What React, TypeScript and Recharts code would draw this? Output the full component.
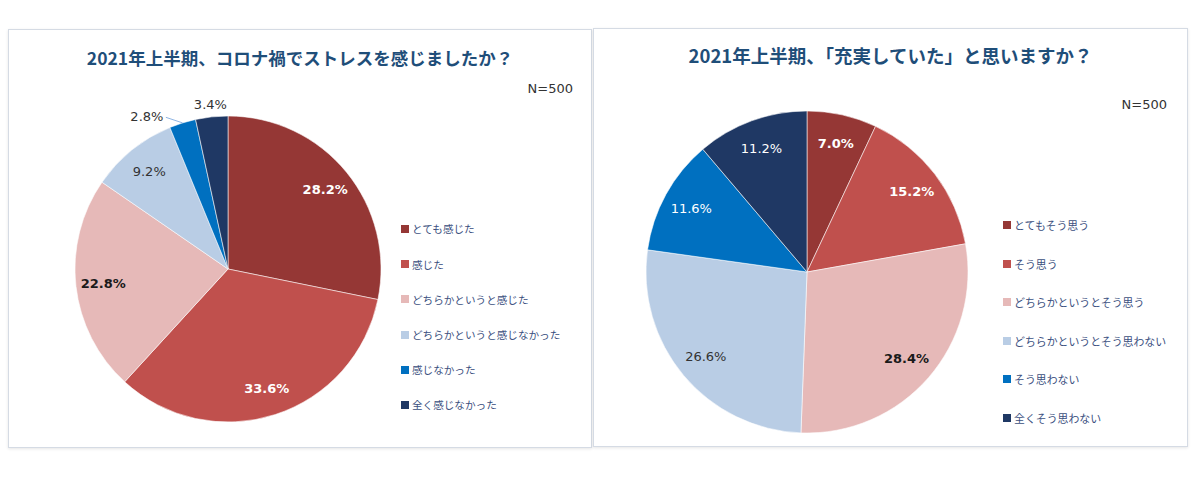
import React from "react";
import { PieChart, Pie, Cell, Legend } from "recharts";

const stressTitle = "2021年上半期、コロナ禍でストレスを感じましたか？";
const stressLabels = ["とても感じた", "感じた", "どちらかというと感じた", "どちらかというと感じなかった", "感じなかった", "全く感じなかった"];
const stressValues = [28.2, 33.6, 22.8, 9.2, 2.8, 3.4];

const fulfilTitle = "2021年上半期、「充実していた」と思いますか？";
const fulfilLabels = ["とてもそう思う", "そう思う", "どちらかというとそう思う", "どちらかというとそう思わない", "そう思わない", "全くそう思わない"];
const fulfilValues = [7.0, 15.2, 28.4, 26.6, 11.6, 11.2];

const sampleSize = "N=500";

const palette = ["#953735", "#C0504D", "#E6B9B8", "#B9CDE5", "#0070C0", "#1F3864"];
const lightFill = [false, false, true, true, false, false];

const RAD = Math.PI / 180;
const labelFont = "Verdana, 'DejaVu Sans', sans-serif";
const jpFont = "'Noto Sans CJK JP', sans-serif";

function makeLabel(values: number[]) {
  return (p: any) => {
    const { cx, cy, midAngle, outerRadius, index } = p;
    const v = values[index];
    const text = v.toFixed(1) + "%";
    const small = v < 5;
    if (!small) {
      const r = outerRadius * 0.82;
      const x = cx + r * Math.cos(-midAngle * RAD);
      const y = cy + r * Math.sin(-midAngle * RAD);
      return (
        <text x={x} y={y} textAnchor="middle" dominantBaseline="central" fontFamily={labelFont} fontSize={13}
          fontWeight={index < 3 ? "bold" : "normal"} fill={lightFill[index] ? (index < 3 ? "#1a1a1a" : "#333") : "#fff"}>
          {text}
        </text>
      );
    }
    // small slices sit outside; if the next one is small too, push this one aside with a leader line
    const crowded = index + 1 < values.length && values[index + 1] < 5;
    const ang = crowded ? midAngle + 10.7 : midAngle;
    const r = outerRadius * (crowded ? 1.13 : 1.08);
    const x = cx + r * Math.cos(-ang * RAD);
    const y = cy + r * Math.sin(-ang * RAD);
    const ex = cx + outerRadius * Math.cos(-midAngle * RAD);
    const ey = cy + outerRadius * Math.sin(-midAngle * RAD);
    return (
      <g>
        {crowded && <polyline points={`${x + 19},${y + 1} ${ex},${ey}`} stroke="#8eb4e3" strokeWidth={1} fill="none" />}
        <text x={x} y={y} textAnchor="middle" dominantBaseline="central" fontFamily={labelFont} fontSize={13} fill="#333">
          {text}
        </text>
      </g>
    );
  };
}

type PanelProps = {
  title: string;
  titleSize: number;
  labels: string[];
  values: number[];
  left: number;
  top: number;
  width: number;
  height: number;
  titleTop: number;
  nTop: number;
  nRight: number;
  cx: number;
  cy: number;
  radius: number;
  legendX: number;
  legendY: number;
  legendGap: number;
  legendFont: number;
};

function ChartPanel(props: PanelProps) {
  const data = props.labels.map((name, i) => ({ name, value: props.values[i] }));
  const renderLegend = () => (
    <div style={{ fontFamily: jpFont, fontSize: props.legendFont, color: "#3B5080" }}>
      {props.labels.map((name, i) => (
        <div key={name} style={{ height: props.legendGap, display: "flex", alignItems: "center", whiteSpace: "nowrap" }}>
          <span style={{ display: "inline-block", width: 8, height: 8, background: palette[i], marginRight: 3 }} />
          {name}
        </div>
      ))}
    </div>
  );
  return (
    <div
      style={{
        position: "absolute",
        left: props.left,
        top: props.top,
        width: props.width,
        height: props.height,
        boxSizing: "border-box",
        border: "1px solid #d5dbe4",
        boxShadow: "0 1px 3px rgba(0,0,0,0.10)",
        background: "#fff",
      }}
    >
      <div
        style={{
          position: "absolute",
          left: 0,
          right: 0,
          top: props.titleTop,
          textAlign: "center",
          fontFamily: jpFont,
          fontWeight: "bold",
          fontSize: props.titleSize,
          lineHeight: "24px",
          color: "#1F4E79",
        }}
      >
        {props.title}
      </div>
      <div
        style={{
          position: "absolute",
          right: props.nRight,
          top: props.nTop,
          fontFamily: labelFont,
          fontSize: 13,
          lineHeight: "16px",
          color: "#333",
        }}
      >
        {sampleSize}
      </div>
      <PieChart width={props.width - 2} height={props.height - 2} margin={{ top: 0, right: 0, bottom: 0, left: 0 }} style={{ position: "absolute", left: 0, top: 0 }}>
        <Pie
          data={data}
          dataKey="value"
          nameKey="name"
          cx={props.cx}
          cy={props.cy}
          outerRadius={props.radius}
          startAngle={90}
          endAngle={-270}
          stroke="rgba(255,255,255,0.55)"
          strokeWidth={1}
          label={makeLabel(props.values)}
          labelLine={false}
          isAnimationActive={false}
        >
          {data.map((d, i) => (
            <Cell key={d.name} fill={palette[i]} />
          ))}
        </Pie>
        <Legend
          content={renderLegend}
          wrapperStyle={{ left: props.legendX, top: props.legendY - props.legendGap / 2, width: "auto", bottom: "auto" }}
        />
      </PieChart>
    </div>
  );
}

export default function App() {
  return (
    <div style={{ position: "absolute", left: 0, top: 0, width: 1200, height: 490, background: "#fff" }}>
      <ChartPanel
        title={stressTitle}
        titleSize={17.5}
        labels={stressLabels}
        values={stressValues}
        left={8}
        top={29}
        width={584}
        height={419}
        titleTop={16}
        nTop={51}
        nRight={18}
        cx={219}
        cy={239}
        radius={153}
        legendX={392}
        legendY={199}
        legendGap={35.2}
        legendFont={10.6}
      />
      <ChartPanel
        title={fulfilTitle}
        titleSize={18.5}
        labels={fulfilLabels}
        values={fulfilValues}
        left={593}
        top={28}
        width={595}
        height={419}
        titleTop={14}
        nTop={68}
        nRight={20}
        cx={213}
        cy={243}
        radius={161}
        legendX={409}
        legendY={196}
        legendGap={38.5}
        legendFont={10.9}
      />
    </div>
  );
}
